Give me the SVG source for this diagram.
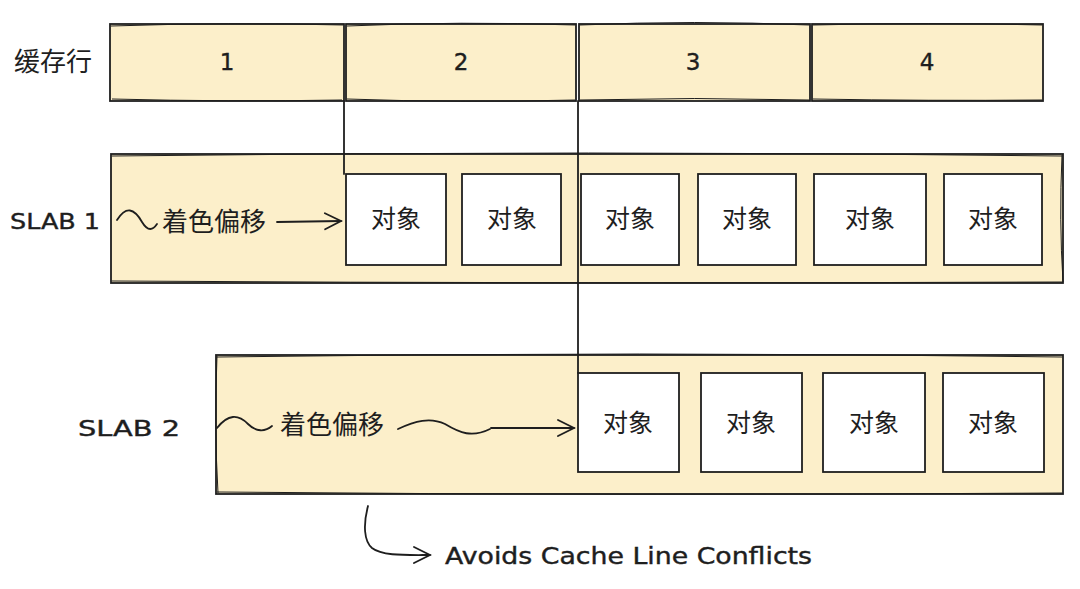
<svg xmlns="http://www.w3.org/2000/svg" width="1080" height="589" viewBox="0 0 1080 589">
<defs>
<style>
.band{fill:#fcefca;stroke:#1e1e1e;stroke-width:1.8}
.obj{fill:#ffffff;stroke:#1e1e1e;stroke-width:1.8}
.sk{fill:none;stroke:#1e1e1e;stroke-width:1}
.ln{fill:none;stroke:#1e1e1e;stroke-width:1.8;stroke-linecap:round}
.cjk{font-family:"Noto Sans CJK SC","Noto Sans",sans-serif;fill:#1e1e1e}
.hand{font-family:"DejaVu Sans","Liberation Sans",sans-serif;fill:#1e1e1e;stroke:#1e1e1e;stroke-width:0.4}
</style>
<marker id="ah" viewBox="0 0 20 20" refX="18" refY="10" markerWidth="20" markerHeight="20" markerUnits="userSpaceOnUse" orient="auto">
<path d="M2,2 L18,10 L2,18" fill="none" stroke="#1e1e1e" stroke-width="1.8" stroke-linecap="round"/>
</marker>
</defs>
<rect width="1080" height="589" fill="#ffffff"/>

<g id="cacheline-label"><text class="cjk" x="14" y="71" font-size="26">缓存行</text></g>
<g id="cacheline-1"><rect class="band" x="110" y="24" width="234" height="77"/><path class="sk" d="M111,26 Q230,22 343,25 M112,99 Q230,102 342,100"/><text class="hand" x="227" y="70" font-size="23" text-anchor="middle">1</text></g>
<g id="cacheline-2"><rect class="band" x="346" y="24" width="230" height="77"/><path class="sk" d="M347,26 Q460,21 575,25 M347,99 Q460,103 575,100"/><text class="hand" x="461" y="70" font-size="23" text-anchor="middle">2</text></g>
<g id="cacheline-3"><rect class="band" x="579" y="24" width="231" height="77"/><path class="sk" d="M580,25 Q695,20 809,25 M580,100 Q695,97 809,100"/><text class="hand" x="693" y="70" font-size="23" text-anchor="middle">3</text></g>
<g id="cacheline-4"><rect class="band" x="812" y="24" width="231" height="77"/><path class="sk" d="M813,25 Q930,22 1042,25 M813,99 Q930,101 1042,100"/><text class="hand" x="927" y="70" font-size="23" text-anchor="middle">4</text></g>

<g id="slab1">
<rect class="band" x="111" y="154" width="952" height="129"/>
<path class="sk" d="M112,156 Q590,150 1062,156 M112,281 Q590,284 1062,282 M1062,155 Q1059,220 1063,282"/>
<text class="hand" x="10" y="229" font-size="22" textLength="90" lengthAdjust="spacingAndGlyphs">SLAB 1</text>
<text class="cjk" x="162" y="231" font-size="26">着色偏移</text>
</g>
<g id="s1-obj1"><rect class="obj" x="346" y="174" width="100" height="91"/><text class="cjk" x="396" y="228" font-size="25" text-anchor="middle">对象</text></g>
<g id="s1-obj2"><rect class="obj" x="462" y="174" width="99" height="91"/><text class="cjk" x="512" y="228" font-size="25" text-anchor="middle">对象</text></g>
<g id="s1-obj3"><rect class="obj" x="581" y="174" width="98" height="91"/><text class="cjk" x="630" y="228" font-size="25" text-anchor="middle">对象</text></g>
<g id="s1-obj4"><rect class="obj" x="698" y="174" width="98" height="91"/><text class="cjk" x="747" y="228" font-size="25" text-anchor="middle">对象</text></g>
<g id="s1-obj5"><rect class="obj" x="814" y="174" width="112" height="91"/><text class="cjk" x="870" y="228" font-size="25" text-anchor="middle">对象</text></g>
<g id="s1-obj6"><rect class="obj" x="944" y="174" width="98" height="91"/><text class="cjk" x="993" y="228" font-size="25" text-anchor="middle">对象</text></g>

<g id="slab2">
<rect class="band" x="216" y="355" width="847" height="139"/>
<path class="sk" d="M217,357 Q640,351 1062,357 M217,492 Q640,496 1062,493 M217,356 Q214,425 218,493"/>
<text class="hand" x="78" y="436" font-size="22" textLength="102" lengthAdjust="spacingAndGlyphs">SLAB 2</text>
<text class="cjk" x="280" y="434" font-size="26">着色偏移</text>
</g>
<g id="s2-obj1"><rect class="obj" x="578" y="373" width="101" height="99"/><text class="cjk" x="628" y="432" font-size="25" text-anchor="middle">对象</text></g>
<g id="s2-obj2"><rect class="obj" x="701" y="373" width="101" height="99"/><text class="cjk" x="751" y="432" font-size="25" text-anchor="middle">对象</text></g>
<g id="s2-obj3"><rect class="obj" x="823" y="373" width="102" height="99"/><text class="cjk" x="874" y="432" font-size="25" text-anchor="middle">对象</text></g>
<g id="s2-obj4"><rect class="obj" x="943" y="373" width="101" height="99"/><text class="cjk" x="993" y="432" font-size="25" text-anchor="middle">对象</text></g>

<g id="note"><text class="hand" x="445" y="564" font-size="23" textLength="367" lengthAdjust="spacingAndGlyphs">Avoids Cache Line Conflicts</text></g>

<g id="connectors">
<path class="ln" d="M344,101 L344,174"/>
<path class="ln" d="M578,101 L578,373"/>
<path class="ln" d="M117,220 C126,206 134,208 142,222 C148,232 153,230 157,224"/>
<path class="ln" d="M277,222 L341,221" marker-end="url(#ah)"/>
<path class="ln" d="M217,428 C228,414 238,414 248,424 C256,432 265,432 272,426"/>
<path class="ln" d="M398,429 C415,421 430,417 445,424 C460,433 472,438 490,429"/>
<path class="ln" d="M491,428 L574,428" marker-end="url(#ah)"/>
<path class="ln" d="M368,506 C363,525 364,541 372,548 C382,556 405,555 430,555" marker-end="url(#ah)"/>
</g>
</svg>
